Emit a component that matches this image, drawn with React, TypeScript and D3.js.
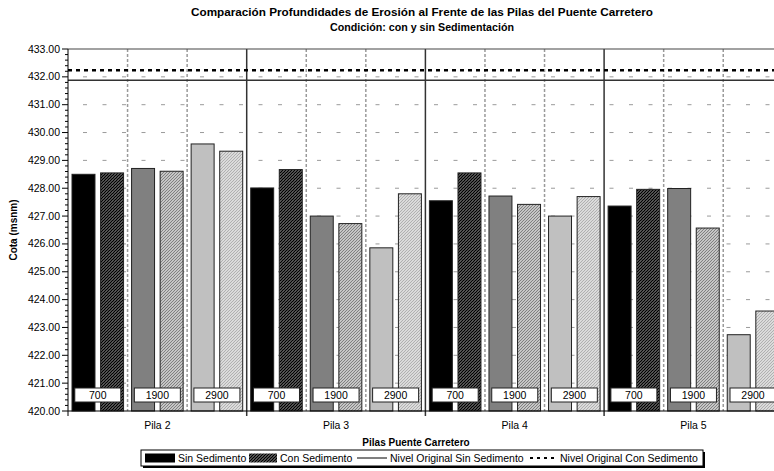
import React from "react";
import * as d3 from "d3";

const piles = ["Pila 2", "Pila 3", "Pila 4", "Pila 5"];
const caudales = ["700", "1900", "2900"];
// order: Pila2 (700,1900,2900), Pila3 (...), Pila4 (...), Pila5 (...)
const sinSedimento = [428.5, 428.71, 429.59, 428.01, 427.0, 425.86, 427.55, 427.72, 427.0, 427.36, 427.99, 422.74];
const conSedimento = [428.55, 428.61, 429.33, 428.67, 426.73, 427.8, 428.55, 427.42, 427.7, 427.96, 426.57, 423.59];
const nivelOriginalSin = 431.88;
const nivelOriginalCon = 432.24;
const yTicks = d3.range(420, 433.001, 1);
const series = ["Sin Sedimento", "Con Sedimento"];

const W = 774;
const H = 471;
const left = 68;
const top = 49;
const bottom = 411;
const groupW = 178.7;
const right = left + groupW * piles.length;

const FONT = "Arial, 'Liberation Sans', sans-serif";

const sinColors = ["#000000", "#808080", "#c0c0c0"];

export default function App() {
  const y = d3.scaleLinear().domain([420, 433]).range([bottom, top]);
  const xGroup = d3.scaleBand<string>().domain(piles).range([left, right]).padding(0);
  const xSub = d3.scaleBand<string>().domain(caudales).range([0, xGroup.bandwidth()]).padding(0);
  const xBar = d3
    .scaleBand<string>()
    .domain(series)
    .range([0, xSub.bandwidth()])
    .paddingInner(0.196)
    .paddingOuter(0.14);

  const minorTicks = d3.range(420, 433.001, 0.2).filter((v) => Math.abs(v - Math.round(v)) > 1e-6);

  const bars: any[] = [];
  piles.forEach((p, pi) => {
    caudales.forEach((c, ci) => {
      const idx = pi * 3 + ci;
      const x0 = (xGroup(p) as number) + (xSub(c) as number);
      [sinSedimento[idx], conSedimento[idx]].forEach((v, si) => {
        const bx = x0 + (xBar(series[si]) as number);
        bars.push(
          <rect
            key={`b-${idx}-${si}`}
            x={bx}
            y={y(v)}
            width={xBar.bandwidth()}
            height={bottom - y(v)}
            fill={si === 0 ? sinColors[ci] : `url(#hatch${ci})`}
            stroke="#222"
            strokeWidth={1}
          />
        );
      });
    });
  });

  const subDividers: number[] = [];
  const groupDividers: number[] = [];
  piles.forEach((p, pi) => {
    const gx = xGroup(p) as number;
    caudales.forEach((c, ci) => {
      if (ci > 0) subDividers.push(gx + (xSub(c) as number));
    });
    if (pi > 0) groupDividers.push(gx);
  });

  const labelBoxes: any[] = [];
  piles.forEach((p, pi) => {
    caudales.forEach((c, ci) => {
      const cx = (xGroup(p) as number) + (xSub(c) as number) + xSub.bandwidth() / 2;
      labelBoxes.push(
        <g key={`lb-${pi}-${ci}`}>
          <rect x={cx - 23} y={388} width={46} height={14} fill="#fff" stroke="#222" strokeWidth={1} />
          <text x={cx} y={399} textAnchor="middle" fontSize={10.5} fontFamily={FONT} fill="#000">
            {c}
          </text>
        </g>
      );
    });
  });

  const hatchBase = ["#000000", "#808080", "#b0b0b0"];

  return (
    <svg
      width={W}
      height={H}
      style={{ position: "absolute", left: 0, top: 0, background: "#fff" }}
      fontFamily={FONT}
    >
      <defs>
        {hatchBase.map((col, i) => (
          <pattern key={i} id={`hatch${i}`} patternUnits="userSpaceOnUse" width={3} height={3}>
            <rect width={3} height={3} fill="#fff" />
            <path d="M-1,1 L1,-1 M0,3 L3,0 M2,4 L4,2" stroke={col} strokeWidth={i === 0 ? 1.6 : 1.3} />
          </pattern>
        ))}
        <clipPath id="plotClip">
          <rect x={left} y={top - 2} width={right - left} height={bottom - top + 4} />
        </clipPath>
      </defs>
      <rect x={0} y={0} width={W} height={H} fill="#fff" />

      {/* Title */}
      <text x={422} y={16} textAnchor="middle" fontSize={11} fontWeight="bold" textLength={462} lengthAdjust="spacingAndGlyphs">
        Comparación Profundidades de Erosión al Frente de las Pilas del Puente Carretero
      </text>
      <text x={422} y={31} textAnchor="middle" fontSize={11} fontWeight="bold" textLength={184} lengthAdjust="spacingAndGlyphs">
        Condición: con y sin Sedimentación
      </text>

      {/* horizontal gridlines */}
      {yTicks
        .filter((v) => v > 420 && v < 433)
        .map((v) => (
          <line
            key={`g-${v}`}
            x1={left}
            x2={right}
            y1={y(v)}
            y2={y(v)}
            stroke="#9a9a9a"
            strokeWidth={1}
            strokeDasharray="4,15.5"
            strokeDashoffset={-15}
          />
        ))}

      {/* vertical dashed sub dividers */}
      {subDividers.map((x, i) => (
        <line key={`sd-${i}`} x1={x} x2={x} y1={top} y2={bottom} stroke="#9a9a9a" strokeWidth={1.5} strokeDasharray="3,2" />
      ))}

      {/* bars */}
      <g clipPath="url(#plotClip)">{bars}</g>

      {/* group dividers */}
      {groupDividers.map((x, i) => (
        <line key={`gd-${i}`} x1={x} x2={x} y1={top} y2={bottom + 5} stroke="#333" strokeWidth={1.5} />
      ))}

      {/* reference levels */}
      <line x1={left} x2={right} y1={y(nivelOriginalSin)} y2={y(nivelOriginalSin)} stroke="#333" strokeWidth={1.5} />
      <line
        x1={left}
        x2={right}
        y1={y(nivelOriginalCon)}
        y2={y(nivelOriginalCon)}
        stroke="#000"
        strokeWidth={2.5}
        strokeDasharray="4,4"
      />

      {/* top border */}
      <line x1={left} x2={right} y1={top} y2={top} stroke="#444" strokeWidth={1.2} />

      {/* label boxes */}
      {labelBoxes}

      {/* y axis */}
      <line x1={left} x2={left} y1={top} y2={bottom} stroke="#000" strokeWidth={1} />
      {minorTicks.map((v, i) => (
        <line key={`mt-${i}`} x1={left - 3} x2={left} y1={y(v)} y2={y(v)} stroke="#000" strokeWidth={1} />
      ))}
      {yTicks.map((v) => (
        <g key={`yt-${v}`}>
          <line x1={left - 6} x2={left} y1={y(v)} y2={y(v)} stroke="#000" strokeWidth={1} />
          <text x={left - 8} y={y(v) + 3.5} textAnchor="end" fontSize={10.5}>
            {d3.format(".2f")(v)}
          </text>
        </g>
      ))}
      <text
        transform={`translate(17,${(top + bottom) / 2}) rotate(-90)`}
        textAnchor="middle"
        fontSize={10}
        fontWeight="bold"
      >
        Cota (msnm)
      </text>

      {/* x axis */}
      <line x1={left} x2={right} y1={bottom} y2={bottom} stroke="#000" strokeWidth={1} />
      <line x1={left} x2={left} y1={bottom} y2={bottom + 5} stroke="#000" strokeWidth={1} />
      {piles.map((p) => (
        <text key={`xl-${p}`} x={(xGroup(p) as number) + xGroup.bandwidth() / 2} y={429} textAnchor="middle" fontSize={10.5}>
          {p}
        </text>
      ))}
      <text x={416} y={446} textAnchor="middle" fontSize={10} fontWeight="bold">
        Pilas Puente Carretero
      </text>

      {/* legend */}
      <rect x={143} y={452} width={562} height={16} fill="#000" />
      <rect x={141} y={450} width={562} height={16} fill="#fff" stroke="#000" strokeWidth={1} />
      <rect x={145} y={453.5} width={30} height={9} fill="#000" />
      <text x={178} y={461.5} fontSize={10.5}>
        Sin Sedimento
      </text>
      <rect x={249} y={453.5} width={28} height={9} fill="url(#hatch0)" />
      <text x={280} y={461.5} fontSize={10.5}>
        Con Sedimento
      </text>
      <line x1={357} x2={387} y1={458} y2={458} stroke="#000" strokeWidth={1} />
      <text x={390} y={461.5} fontSize={10.5}>
        Nivel Original Sin Sedimento
      </text>
      <line x1={530} x2={557} y1={458} y2={458} stroke="#000" strokeWidth={2} strokeDasharray="3,4" />
      <text x={560} y={461.5} fontSize={10.5}>
        Nivel Original Con Sedimento
      </text>
    </svg>
  );
}
